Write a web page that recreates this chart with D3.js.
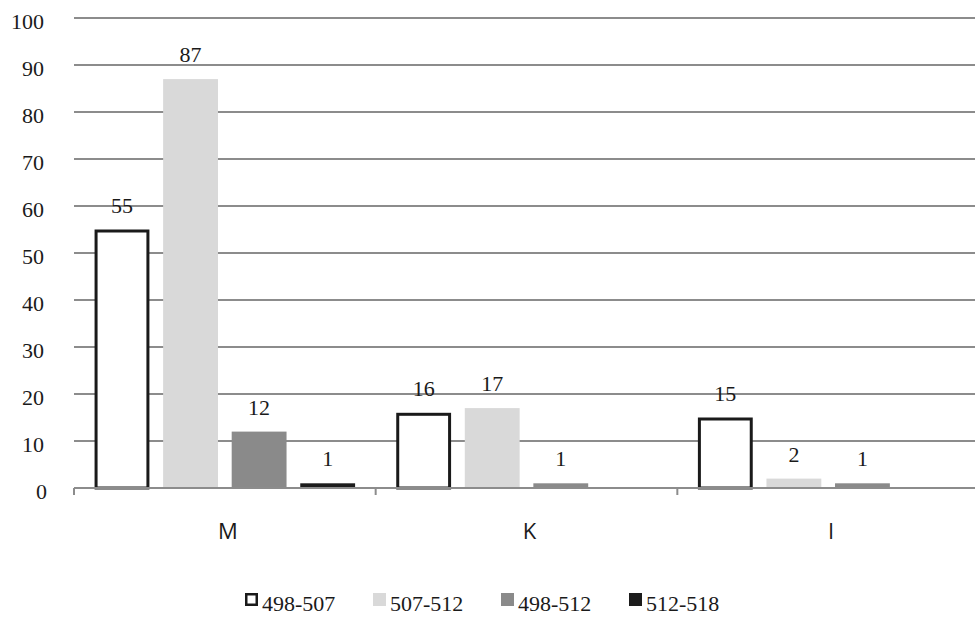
<!DOCTYPE html>
<html>
<head>
<meta charset="utf-8">
<script src="https://cdn.jsdelivr.net/npm/d3@7"></script>
<style>
  body { margin: 0; background: #fff; }
  svg { display: block; }
</style>
</head>
<body>
<div id="app"></div>
<script>
const categories = ["M", "K", "I"];
const seriesNames = ["498-507", "507-512", "498-512", "512-518"];
const s498_507 = [55, 16, 15];
const s507_512 = [87, 17, 2];
const s498_512 = [12, 1, 1];
const s512_518 = [1, 0, 0];
const yTicks = [0, 10, 20, 30, 40, 50, 60, 70, 80, 90, 100];

const series = [s498_507, s507_512, s498_512, s512_518];

const width = 975, height = 629;
const margin = { left: 74, top: 18, bottom: 141 };
const plotW = 905; // runs slightly past the window like the original
const plotBottom = height - margin.bottom;

const fills = ["#ffffff", "#d9d9d9", "#8a8a8a", "#1c1c1c"];
const strokes = ["#1a1a1a", "none", "none", "none"];
const serif = "'Liberation Serif', 'DejaVu Serif', serif";

const svg = d3.select("#app")
  .append("svg")
  .attr("width", width)
  .attr("height", height);

const y = d3.scaleLinear().domain([0, 100]).range([plotBottom, margin.top]);

const x0 = d3.scaleBand()
  .domain(categories)
  .range([margin.left, margin.left + plotW])
  .padding(0);

const x1 = d3.scaleBand()
  .domain(d3.range(seriesNames.length))
  .range([0, x0.bandwidth()])
  .paddingInner(0.2)
  .paddingOuter(0.3);

// gridlines
svg.append("g")
  .selectAll("line")
  .data(yTicks.filter(d => d > 0))
  .enter()
  .append("line")
  .attr("x1", margin.left)
  .attr("x2", margin.left + plotW)
  .attr("y1", d => y(d))
  .attr("y2", d => y(d))
  .attr("stroke", "#8c8c8c")
  .attr("stroke-width", 2);

// y labels
svg.append("g")
  .selectAll("text")
  .data(yTicks)
  .enter()
  .append("text")
  .attr("x", d => (d === 0 ? 47 : 44))
  .attr("y", d => y(d) + 11)
  .attr("text-anchor", "end")
  .attr("font-family", serif)
  .attr("font-size", 22)
  .attr("fill", "#1a1a1a")
  .text(d => d);

// bars
const rows = categories.map((c, i) => ({ cat: c, vals: series.map(s => s[i]) }));

const groups = svg.append("g")
  .selectAll("g")
  .data(rows)
  .enter()
  .append("g")
  .attr("transform", d => "translate(" + x0(d.cat) + ",0)");

groups.selectAll("rect")
  .data(d => d.vals.map((v, j) => ({ v, j })).filter(e => e.v > 0))
  .enter()
  .append("rect")
  .attr("x", d => x1(d.j) + (strokes[d.j] === "none" ? 0 : 1.5))
  .attr("width", d => x1.bandwidth() - (strokes[d.j] === "none" ? 0 : 3))
  .attr("y", d => y(d.v) + (strokes[d.j] === "none" ? 0 : 1.5))
  .attr("height", d => plotBottom - y(d.v) - (strokes[d.j] === "none" ? 0 : 1.5))
  .attr("fill", d => fills[d.j])
  .attr("stroke", d => strokes[d.j])
  .attr("stroke-width", 3);

groups.selectAll("text")
  .data(d => d.vals.map((v, j) => ({ v, j })).filter(e => e.v > 0))
  .enter()
  .append("text")
  .attr("x", d => x1(d.j) + x1.bandwidth() / 2)
  .attr("y", d => y(d.v) - 17)
  .attr("text-anchor", "middle")
  .attr("font-family", serif)
  .attr("font-size", 22)
  .attr("fill", "#1a1a1a")
  .text(d => d.v);

// x axis line and ticks
svg.append("line")
  .attr("x1", margin.left)
  .attr("x2", margin.left + plotW)
  .attr("y1", plotBottom)
  .attr("y2", plotBottom)
  .attr("stroke", "#8c8c8c")
  .attr("stroke-width", 2);

svg.append("g")
  .selectAll("line")
  .data(categories)
  .enter()
  .append("line")
  .attr("x1", d => x0(d))
  .attr("x2", d => x0(d))
  .attr("y1", plotBottom)
  .attr("y2", plotBottom + 7)
  .attr("stroke", "#8c8c8c")
  .attr("stroke-width", 2);

// category labels
svg.append("g")
  .selectAll("text")
  .data(categories)
  .enter()
  .append("text")
  .attr("x", d => x0(d) + x0.bandwidth() / 2 + 3)
  .attr("y", 539)
  .attr("text-anchor", "middle")
  .attr("font-family", "'Open Sans', 'Noto Sans', sans-serif")
  .attr("font-size", 22)
  .attr("fill", "#1a1a1a")
  .text(d => d);

// legend
const legend = svg.append("g")
  .selectAll("g")
  .data(seriesNames)
  .enter()
  .append("g")
  .attr("transform", (d, i) => "translate(" + (245 + i * 128) + ",593)");

legend.append("rect")
  .attr("x", (d, i) => (strokes[i] === "none" ? 0 : 1.25))
  .attr("y", (d, i) => (strokes[i] === "none" ? 0 : 1.25))
  .attr("width", (d, i) => (strokes[i] === "none" ? 13 : 10.5))
  .attr("height", (d, i) => (strokes[i] === "none" ? 13 : 10.5))
  .attr("fill", (d, i) => fills[i])
  .attr("stroke", (d, i) => strokes[i])
  .attr("stroke-width", 2.5);

legend.append("text")
  .attr("x", 17)
  .attr("y", 18)
  .attr("font-family", serif)
  .attr("font-size", 22)
  .attr("fill", "#1a1a1a")
  .text(d => d);
</script>
</body>
</html>
